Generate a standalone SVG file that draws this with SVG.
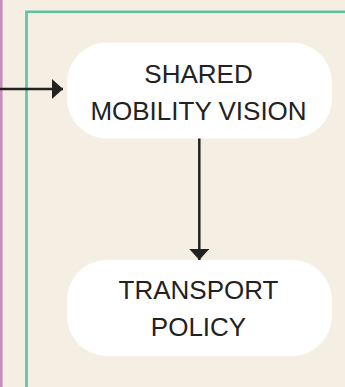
<svg xmlns="http://www.w3.org/2000/svg" width="345" height="387" viewBox="0 0 345 387">
<style>
.bg{fill:#f5efe3}
.node{fill:#ffffff}
.lbl{font-family:"Liberation Sans",Arial,sans-serif;font-size:26px;fill:#222222;text-anchor:middle}
.edge{stroke:#222222;stroke-width:2.5;fill:none}
</style>
<defs>
<marker id="ah" viewBox="0 0 11 20" refX="11" refY="10" markerWidth="11" markerHeight="20" markerUnits="userSpaceOnUse" orient="auto">
<path d="M0,0 L11,10 L0,20 Z" fill="#222222"/>
</marker>
</defs>
<rect class="bg" x="0" y="0" width="345" height="387"/>
<g id="outer-cluster">
<line x1="1.3" y1="0" x2="1.3" y2="387" stroke="#c690bb" stroke-width="2.6"/>
</g>
<g id="cluster">
<rect x="26.5" y="11.8" width="340" height="400" fill="none" stroke="#5fc0a2" stroke-width="2.6"/>
</g>
<g id="connectors">
<line class="edge" x1="0" y1="89" x2="63" y2="89" marker-end="url(#ah)"/>
<line class="edge" x1="199.3" y1="137" x2="199.3" y2="260" marker-end="url(#ah)"/>
</g>
<g id="shared-mobility-vision">
<rect class="node" x="67" y="42.5" width="265" height="96" rx="40" ry="40"/>
<text class="lbl" x="198.5" y="83.3">SHARED</text>
<text class="lbl" x="198.5" y="120">MOBILITY VISION</text>
</g>
<g id="transport-policy">
<rect class="node" x="67" y="260" width="265" height="96" rx="40" ry="40"/>
<text class="lbl" x="198.5" y="298.5">TRANSPORT</text>
<text class="lbl" x="198.5" y="336">POLICY</text>
</g>
</svg>
